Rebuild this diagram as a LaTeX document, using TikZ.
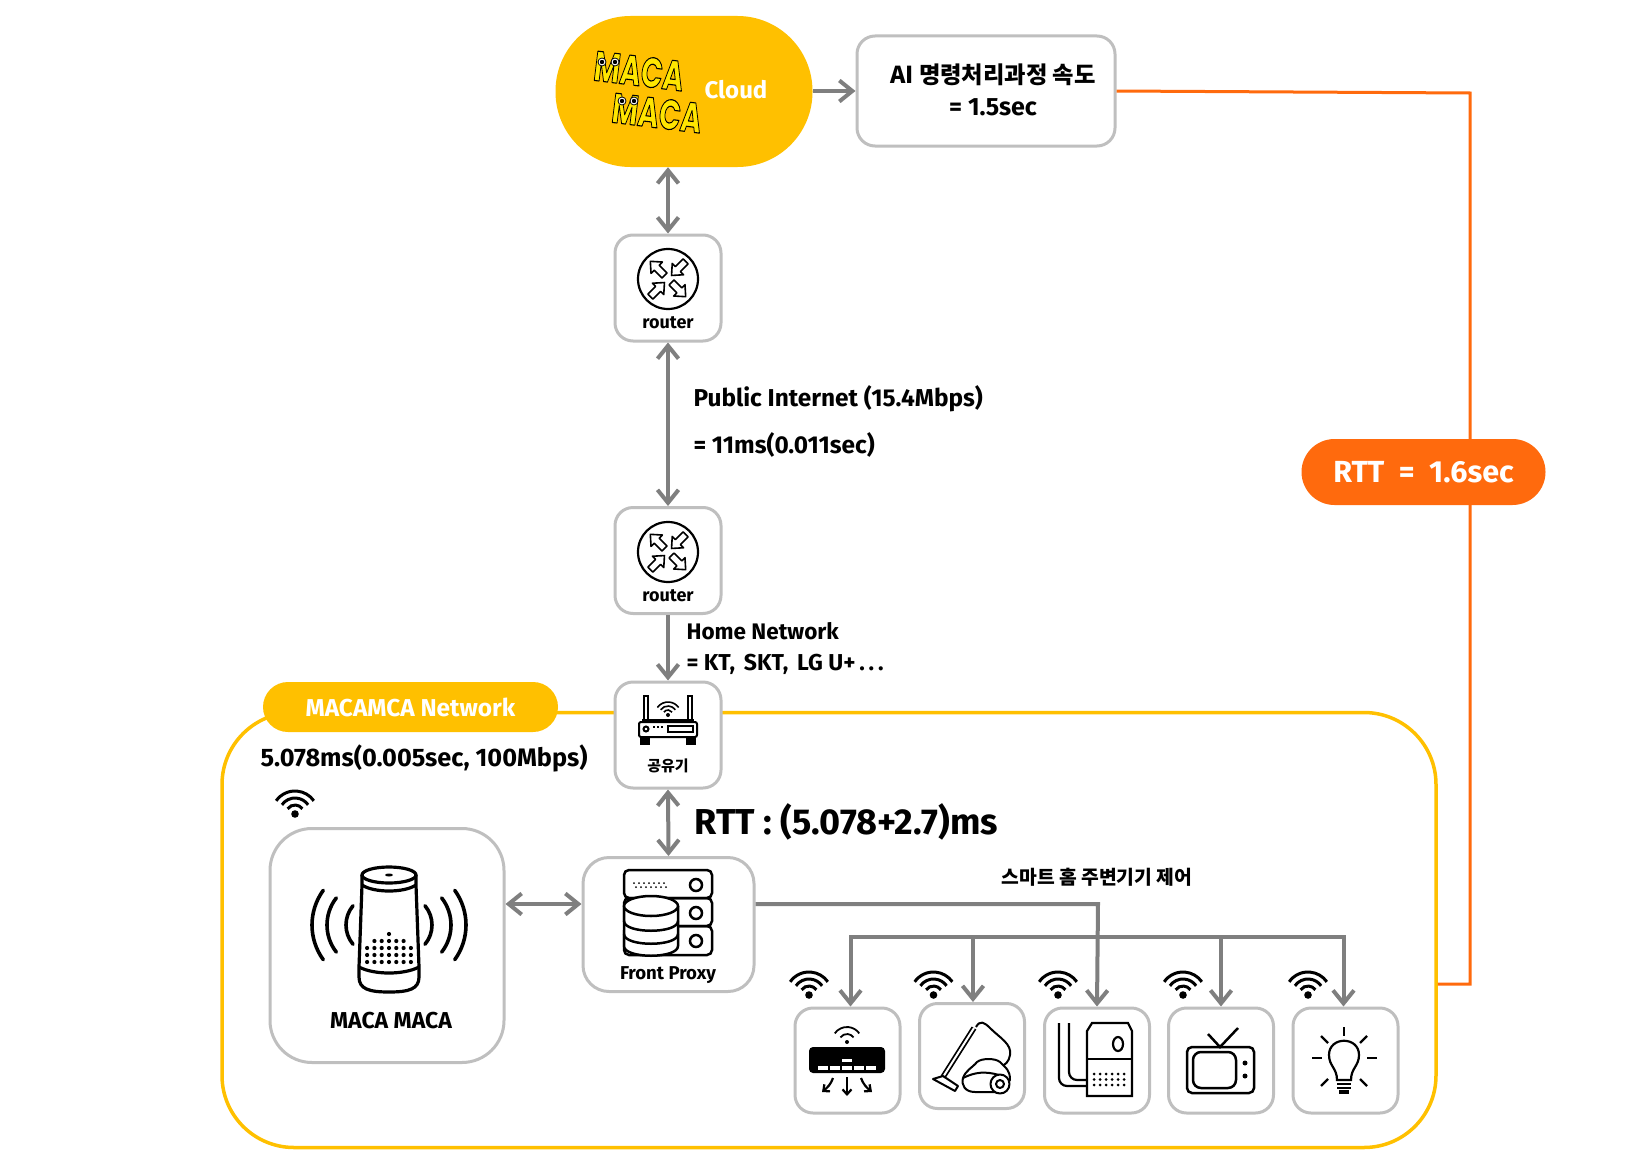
\documentclass[tikz,border=0pt]{standalone}
\usepackage{fontspec}
\usetikzlibrary{arrows.meta}
\setmainfont{Fira Sans}
\newfontfamily\krfont{Noto Sans CJK KR}
\newfontfamily\logofont{Poppins}
\newcommand{\fsz}[1]{\fontsize{#1}{#1}\selectfont}
\newcommand{\logoword}[1]{\scalebox{.68}[1]{\textcolor{logoyellow}{\special{pdf:code q 0 0 0 RG 1.1 w 1 j 2 Tr}#1\special{pdf:code Q}}}}
\definecolor{macayellow}{HTML}{FFC000}
\definecolor{rttorange}{HTML}{FF6A0D}
\definecolor{boxgray}{HTML}{BFBFBF}
\definecolor{linkgray}{HTML}{7F7F7F}
\definecolor{logoyellow}{HTML}{FFE600}
\tikzset{
  iconbox/.style={draw=boxgray,line width=3pt,fill=white,inner sep=0pt,rounded corners=18pt},
  pillbox/.style={inner sep=0pt,rounded corners=#1},
  link/.style={draw=linkgray,line width=4pt},
  blockarrow/.pic={\draw[line width=1.6pt,fill=white,line join=round] (0,3.5) -- (11,3.5) -- (11,8) -- (20,0) -- (11,-8) -- (11,-3.5) -- (0,-3.5) -- cycle;},
  wifi/.pic={
    \fill (0,0) circle (3.8);
    \foreach \r in {9,16,23}
      \draw[line width=3pt] (215:\r) arc[start angle=215,end angle=325,radius=\r];
  },
  routericon/.pic={
    \draw[line width=2.2pt] (0,0) circle (30);
    \foreach \a in {135,315} \pic[rotate=\a] at (-\a:5) {blockarrow};
    \foreach \a in {45,225} \pic[rotate=\a+180] at (-\a:25) {blockarrow};
  },
}
\begin{document}
\begin{tikzpicture}[x=1pt,y=-1pt,>={Straight Barb[length=13pt,width=21pt]}]
\useasboundingbox (0,0) rectangle (1636,1164);

% network frame
\node[draw=macayellow,line width=3.5pt,minimum width=1214pt,minimum height=435pt,rounded corners=72pt] (frame) at (829,930) {};
\node[pillbox=25pt,fill=macayellow,minimum width=295pt,minimum height=50pt,text=white,font={\fsz{24.4}\bfseries}] (netpill) at (410.5,707) {MACAMCA Network};

% boxes
\node[pillbox=75pt,fill=macayellow,minimum width=257pt,minimum height=151pt] (cloud) at (684,91.5) {};
\node[iconbox,minimum width=258pt,minimum height=110pt] (speed) at (986,91) {};
\node[iconbox,minimum width=106pt,minimum height=106pt] (routerA) at (668,288) {};
\node[iconbox,minimum width=106pt,minimum height=106pt] (routerB) at (668,560.5) {};
\node[iconbox,minimum width=106pt,minimum height=106pt] (ap) at (668,735) {};
\node[iconbox,minimum width=171pt,minimum height=134pt,rounded corners=26pt] (proxy) at (668.5,924.5) {};
\node[iconbox,minimum width=234pt,minimum height=234pt,rounded corners=42pt] (speaker) at (387,945.5) {};
\foreach \name/\x/\y in {devA/847.5/1060.5,devB/972/1056,devC/1097/1060.5,devD/1221/1060.5,devE/1345.5/1060.5}
  \node[iconbox,minimum width=105pt,minimum height=105pt] (\name) at (\x,\y) {};

% connectors
\coordinate (busin) at (1098,904);
\coordinate (bus) at (1098,937);
\coordinate (orangeA) at (1470,93);
\coordinate (orangeB) at (1470,984);
\draw[draw=rttorange,line width=3pt] (speed.east) -- (orangeA) -- (orangeB) -- (frame.east |- orangeB);
\draw[link,<->] (routerA.north) -- (routerA.north |- cloud.south);
\draw[link,->] (cloud.east |- speed.east) -- (speed.west);
\draw[link,<->] (routerA.south) -- (routerB.north);
\draw[link,->] (routerB.south) -- (ap.north);
\draw[link,<->] (ap.south) -- (proxy.north);
\draw[link,<->] (speaker.east |- busin) -- (proxy.west |- busin);
\draw[link,->] (proxy.east |- busin) -- (busin) -- (devC.north);
\draw[link,line cap=rect] ([xshift=3pt]devA.north |- bus) -- ([xshift=-2pt]devE.north |- bus);
\foreach \name/\dx in {devA/3,devB/1,devD/0,devE/-2}
  \draw[link,->] ([xshift=\dx pt]\name.north |- bus) -- ([xshift=\dx pt]\name.north);

\node[pillbox=33pt,fill=rttorange,minimum width=244pt,minimum height=66pt,text=white,font={\fsz{30.5}\bfseries}] (rtt) at (1423.5,472) {RTT\ \ =\ \ 1.6sec};

% cloud logo and text
\node[font={\logofont\fsz{42}\bfseries},rotate=-7,inner sep=0pt] (logoA) at (639,71) {\logoword{MACA}};
\node[font={\logofont\fsz{42}\bfseries},rotate=-7,inner sep=0pt] (logoB) at (657,113) {\logoword{MACA}};
\foreach \x/\y in {602/62,615/62,622/101,634/101} {
  \draw[fill=white,line width=.8pt] (\x,\y) circle (4);
  \fill[black] (\x,\y) circle (2.2);
}
\node[text=white,font={\fsz{24}\bfseries}] (cloudtxt) at (736,90) {Cloud};
\node[font={\krfont\fsz{23.3}\bfseries}] (speedA) at (993,75) {AI 명령처리과정 속도};
\node[font={\fsz{25}\bfseries}] (speedB) at (993,107) {= 1.5sec};

% texts
\node[anchor=west,font={\fsz{24.4}\bfseries}] (pubA) at (690,399) {Public Internet (15.4Mbps)};
\node[anchor=west,font={\fsz{24.4}\bfseries}] (pubB) at (690,445) {= 11ms(0.011sec)};
\node[anchor=west,font={\fsz{22.5}\bfseries}] (homeA) at (683,631) {Home Network};
\node[anchor=west,font={\fsz{23}\bfseries}] (homeB) at (683,664) {= KT,\hspace{3.5pt} SKT,\hspace{3.5pt} LG U+\,.\,.\,.};
\node[anchor=west,font={\fsz{25.3}\bfseries}] (wifitxt) at (257,758) {5.078ms(0.005sec, 100Mbps)};
\node[anchor=west,font={\fsz{36}\bfseries}] (rtttxt) at (691,822) {RTT : (5.078+2.7)ms};
\node[font={\krfont\fsz{19.3}\bfseries}] (ctrl) at (1097,877) {스마트 홈 주변기기 제어};
\node[font={\fsz{23}\bfseries}] (spktxt) at (391,1021) {MACA MACA};
\node[font={\fsz{18}\bfseries}] (rtxtA) at (668,323) {router};
\node[font={\fsz{18}\bfseries}] (rtxtB) at (668,596) {router};
\node[font={\krfont\fsz{15}\bfseries}] (aptxt) at (668,766) {공유기};
\node[font={\fsz{18.6}\bfseries}] (proxytxt) at (668,975) {Front Proxy};

% router icons
\pic at (668,279) {routericon};
\pic at (668,552) {routericon};

% wifi marks
\pic at (295,814) {wifi};
\foreach \x in {809,933.5,1058,1183,1308}
  \pic at (\x,995) {wifi};

% access point
\begin{scope}[shift={(668,722)},line width=2pt]
  \draw[fill=white,rounded corners=2pt] (-29,0) rectangle (29,15);
  \draw (-24,0) -- (-24,-26) -- (-20,-26) -- (-20,0);
  \draw (20,0) -- (20,-26) -- (24,-26) -- (24,0);
  \fill (-26,-3) rectangle (26,0);
  \fill (-28,15) rectangle (-18,23);
  \fill (18,15) rectangle (28,23);
  \draw (-22,7) circle (2.5);
  \draw[line width=2pt,dotted] (-15,5) -- (-4,5);
  \draw (0,4) rectangle (25,10);
  \fill (0,-7) circle (2);
  \foreach \r in {5,9,13}
    \draw[line width=1.6pt] ([yshift=7pt]215:\r) arc[start angle=215,end angle=325,radius=\r];
\end{scope}

% front proxy icon
\begin{scope}[shift={(668,912)},line width=2.5pt]
  \draw[rounded corners=5pt] (-44,-42) rectangle (44,-14);
  \draw[rounded corners=5pt] (-44,-14) rectangle (44,14);
  \draw[rounded corners=5pt] (-44,14) rectangle (44,43);
  \foreach \y in {-27,1,29} \draw (28,\y) circle (6);
  \foreach \x in {-34,-29,...,-4} { \fill (\x,-29) circle (1); \fill (\x+2,-25) circle (1); }
  \draw[fill=white] (-44,-6) -- (-44,34) .. controls (-44,47) and (10,47) .. (10,34) -- (10,-6);
  \draw[fill=white] (-17,-6) ellipse (27 and 10);
  \draw (-44,9) .. controls (-44,22) and (10,22) .. (10,9);
  \draw (-44,22) .. controls (-44,35) and (10,35) .. (10,22);
\end{scope}

% speaker icon
\begin{scope}[shift={(389,925)},line width=3.2pt,line join=round]
  \draw (-27,-50) -- (-27,-40) -- (-30,42) -- (-30,52) .. controls (-30,64) and (-20,67) .. (0,67) .. controls (20,67) and (30,64) .. (30,52) -- (30,42) -- (27,-40) -- (27,-50);
  \draw (0,-50) ellipse (27 and 8);
  \fill (0,-50) ellipse (4 and 1.5);
  \draw (-27,-40) .. controls (-15,-32) and (15,-32) .. (27,-40);
  \draw (-30,42) .. controls (-15,50) and (15,50) .. (30,42);
  \foreach \i/\t in {-3/2,-2/1,-1/1,0/0,1/1,2/1,3/2}
    \foreach \j in {\t,...,4}
      \fill (\i*7.3,\j*7+9) circle (2.1);
  \foreach \c/\r/\a in {-18/59/36,-18/44/38,-13/30/40}
    \draw[line width=3.6pt,line cap=round] (\c,0) ++(180-\a:\r) arc[start angle=180-\a,end angle=180+\a,radius=\r];
  \foreach \c/\r/\a in {18/59/36,18/44/38,13/30/40}
    \draw[line width=3.6pt,line cap=round] (\c,0) ++(-\a:\r) arc[start angle=-\a,end angle=\a,radius=\r];
\end{scope}

% air conditioner
\begin{scope}[shift={(847,1060)},line width=2.2pt]
  \fill[rounded corners=4pt] (-38,-13) rectangle (38,13);
  \foreach \x in {-29,-17,-5,7,19} \fill[white] (\x,6) rectangle (\x+10,10);
  \fill[white] (-5,-1) rectangle (5,1.5);
  \fill (0,-18) circle (2);
  \foreach \r in {8,15} \draw[line width=1.8pt] ([yshift=18pt]215:\r) arc[start angle=215,end angle=325,radius=\r];
  \draw[->,>={Straight Barb[length=5pt,width=9pt]}] (0,17) -- (0,36);
  \draw[->,>={Straight Barb[length=5pt,width=9pt]}] (-14,18) .. controls (-16,24) and (-20,28) .. (-25,32);
  \draw[->,>={Straight Barb[length=5pt,width=9pt]}] (14,18) .. controls (16,24) and (20,28) .. (25,32);
\end{scope}

% vacuum
\begin{scope}[line width=2pt,line join=round]
  \draw[line width=5.5pt] (974,1028) -- (943,1077);
  \draw[line width=2pt,white] (974,1028) -- (943,1077);
  \draw (976,1027) .. controls (980,1020) and (984,1022) .. (990,1028) .. controls (1000,1038) and (1012,1044) .. (1010,1055) .. controls (1009,1062) and (1005,1065) .. (1000,1067);
  \draw (933,1079) -- (943,1076) -- (958,1086) -- (955,1091) -- cycle;
  \draw[fill=white] (975,1092) .. controls (965,1092) and (961,1085) .. (963,1078) .. controls (966,1070) and (972,1068) .. (977,1062) .. controls (982,1058) and (995,1058) .. (1000,1062) .. controls (1006,1068) and (1010,1070) .. (1010,1080) -- (1000,1092) -- cycle;
  \draw (963,1078) .. controls (975,1072) and (985,1071) .. (999,1075);
  \draw[fill=white] (1000,1084) circle (9.5);
  \draw (1000,1084) circle (4);
\end{scope}

% tower
\begin{scope}[line width=2.2pt]
  \draw (1087,1096) -- (1087,1031) -- (1092,1023) -- (1128,1023) -- (1132,1031) -- (1132,1096) -- cycle;
  \draw (1118,1044) ellipse (5 and 7);
  \draw (1087,1059) -- (1132,1059);
  \foreach \x in {1094,1100,...,1126} \foreach \y in {1074,1079.5,1085} \fill (\x,\y) circle (1.5);
  \draw[rounded corners=8pt] (1059,1023) -- (1059,1086) -- (1087,1086);
  \draw[rounded corners=8pt] (1069,1023) -- (1069,1080) -- (1087,1080);
\end{scope}

% television
\begin{scope}[line width=2.5pt]
  \draw[rounded corners=5pt] (1187,1047) rectangle (1254,1093);
  \draw[rounded corners=8pt] (1193,1052) rectangle (1236,1088);
  \fill (1245,1063) circle (2.5);
  \fill (1245,1076) circle (2.5);
  \draw (1208,1034) -- (1220,1047) -- (1238,1028);
\end{scope}

% bulb
\begin{scope}[line width=2.2pt]
  \draw (1337,1080) .. controls (1337,1068) and (1329,1066) .. (1329,1055) .. controls (1329,1036) and (1359,1036) .. (1359,1055) .. controls (1359,1066) and (1351,1068) .. (1351,1080) -- cycle;
  \foreach \y in {1084,1088} \draw (1337,\y) -- (1351,\y);
  \fill (1339,1090) rectangle (1349,1094);
  \draw (1344,1027) -- (1344,1036);
  \draw (1312,1058) -- (1322,1058);
  \draw (1367,1058) -- (1377,1058);
  \draw (1321,1036) -- (1328,1043);
  \draw (1367,1036) -- (1360,1043);
  \draw (1321,1086) -- (1328,1079);
  \draw (1367,1086) -- (1360,1079);
\end{scope}
\end{tikzpicture}
\end{document}
